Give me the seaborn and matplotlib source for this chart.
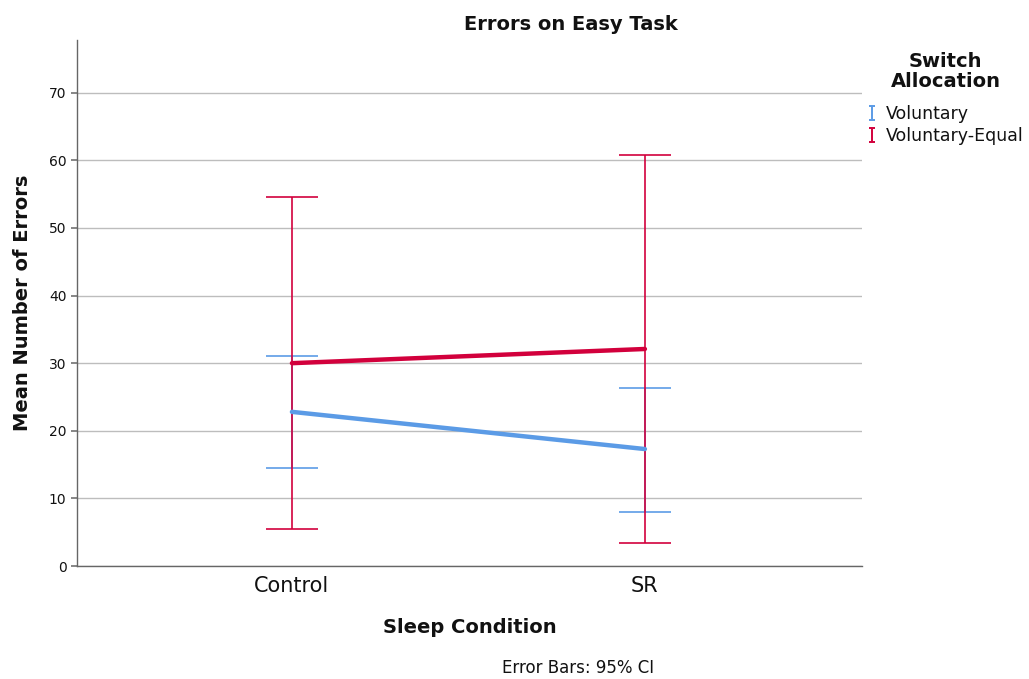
import numpy as np
import pandas as pd
import matplotlib
matplotlib.use("Agg")
import matplotlib.pyplot as plt
from matplotlib.path import Path
from matplotlib.lines import Line2D
import seaborn as sns

# Mean errors with 95% CI bounds per sleep condition and switch allocation group
conditions = ["Control", "SR"]
groups = ["Voluntary", "Voluntary-Equal"]
voluntary_mean = [22.8, 17.3]
voluntary_lo = [14.5, 8.0]
voluntary_hi = [31.1, 26.3]
equal_mean = [30.0, 32.1]
equal_lo = [5.5, 3.4]
equal_hi = [54.6, 60.8]

colors = {"Voluntary": "#5B9BE6", "Voluntary-Equal": "#D2003C"}

df = pd.DataFrame({
    "condition": conditions * 2,
    "pos": list(range(len(conditions))) * 2,
    "group": [groups[0]] * 2 + [groups[1]] * 2,
    "mean": voluntary_mean + equal_mean,
    "lo": voluntary_lo + equal_lo,
    "hi": voluntary_hi + equal_hi,
})

sns.set_theme(style="white")
plt.rcParams["font.family"] = ["DejaVu Sans"]
for key in ["text.color", "axes.labelcolor", "xtick.color", "ytick.color"]:
    plt.rcParams[key] = "#111111"

fig = plt.figure(figsize=(10.29, 6.79), dpi=100)
ax = fig.add_axes([0.0748, 0.1664, 0.7629, 0.7747])

for g in groups:
    sub = df[df["group"] == g]
    ax.errorbar(sub["pos"], sub["mean"],
                yerr=[sub["mean"] - sub["lo"], sub["hi"] - sub["mean"]],
                fmt="none", ecolor=colors[g], elinewidth=1.4,
                capsize=18.5, capthick=1.4, alpha=0.85, zorder=3)

sns.lineplot(data=df, x="pos", y="mean", hue="group", palette=colors,
             linewidth=3.2, legend=False, ax=ax, zorder=4)

ax.set_xlim(-0.609, 1.615)
ax.set_ylim(0, 77.8)
ax.set_xticks(range(len(conditions)))
ax.set_xticklabels(conditions, fontsize=15)
ax.set_yticks(np.arange(0, 80, 10))
ax.tick_params(axis="y", labelsize=10, length=4, color="#777777", left=True)
ax.tick_params(axis="x", length=0, pad=7)
ax.yaxis.grid(True, color="#bdbdbd", linewidth=1)
ax.set_axisbelow(True)
for s in ["top", "right"]:
    ax.spines[s].set_visible(False)
for s in ["left", "bottom"]:
    ax.spines[s].set_color("#666666")
    ax.spines[s].set_linewidth(1.0)

ax.set_xlabel("Sleep Condition", fontsize=14, fontweight="bold", labelpad=16)
ax.set_ylabel("Mean Number of Errors", fontsize=14, fontweight="bold", labelpad=12)

fig.text(0.555, 0.964, "Errors on Easy Task", ha="center", va="center",
         fontsize=14, fontweight="bold")
fig.text(0.562, 0.016, "Error Bars: 95% CI", ha="center", va="center",
         fontsize=12)

# Legend title, centred above the entries
fig.text(0.919, 0.895, "Switch\nAllocation", ha="center", va="center",
         multialignment="center", fontsize=14, fontweight="bold",
         linespacing=1.1)

# Small error-bar glyph for the legend keys
ibar = Path([(-0.45, 1), (0.45, 1), (0, 1), (0, -1), (-0.45, -1), (0.45, -1)],
            [Path.MOVETO, Path.LINETO, Path.MOVETO, Path.LINETO,
             Path.MOVETO, Path.LINETO])
handles = [Line2D([], [], linestyle="none", marker=ibar, markersize=10,
                  markeredgewidth=1.4, markeredgecolor=colors[g],
                  markerfacecolor="none") for g in groups]

leg = fig.legend(handles, groups, loc="upper left",
                 bbox_to_anchor=(0.842, 0.845), frameon=False,
                 fontsize=12.5, handlelength=0.6, handletextpad=0.5,
                 labelspacing=0.22, borderaxespad=0.0, borderpad=0.0)

fig.savefig("out.png", dpi=100)
